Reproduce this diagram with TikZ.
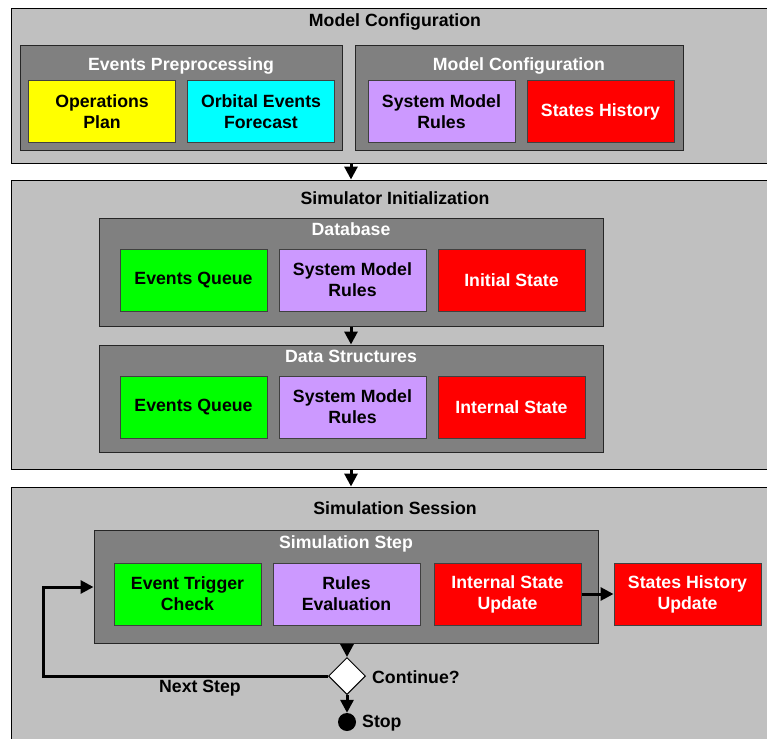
\documentclass[tikz,border=0pt]{standalone}
\usepackage{fontspec}
\setmainfont{Liberation Sans}
\usetikzlibrary{arrows.meta,shapes.geometric}
\definecolor{panelgray}{HTML}{C0C0C0}
\definecolor{groupgray}{HTML}{808080}
\definecolor{cyellow}{HTML}{FFFF00}
\definecolor{ccyan}{HTML}{00FFFF}
\definecolor{cgreen}{HTML}{00FF00}
\definecolor{clav}{HTML}{CC99FF}
\definecolor{cred}{HTML}{FF0000}
\begin{document}
\begin{tikzpicture}[x=1pt,y=-1pt,
  txt/.style={font=\bfseries\fontsize{17.7}{21}\selectfont},
  panel/.style={draw=black, fill=panelgray, line width=1pt, inner sep=0, minimum width=768pt},
  grp/.style={draw=black!85, fill=groupgray, line width=1pt, inner sep=0},
  box/.style={txt, draw=black!75, line width=1pt, inner sep=0, minimum width=147pt, minimum height=62pt, align=center},
  wbox/.style={box, fill=cred, text=white},
  ttl/.style={txt, inner sep=0},
  wttl/.style={ttl, text=white},
  arr/.style={line width=3pt, -{Triangle[length=13pt,width=13pt]}},
]
\useasboundingbox (0,0) rectangle (767,738);
\clip (0,0) rectangle (767,738);
\fill[white] (0,0) rectangle (767,738);

% ---- Panel 1
\node[panel, minimum height=154pt] (p1) at (395,86) {};
\node[ttl] (t1) at (395,22) {Model Configuration};
\node[grp, minimum width=322pt, minimum height=105pt] (ep) at (181,98.5) {};
\node[wttl] at (181,66) {Events Preprocessing};
\node[grp, minimum width=328pt, minimum height=105pt] (mc) at (519,98.5) {};
\node[wttl] at (519,66) {Model Configuration};
\node[box, fill=cyellow] (op) at (102,111.5) {Operations\\Plan};
\node[box, fill=ccyan] (oe) at (261,111.5) {Orbital Events\\Forecast};
\node[box, fill=clav] (smr1) at (441.5,111.5) {System Model\\Rules};
\node[wbox] (sh) at (600.5,111.5) {States History};

% ---- Panel 2
\node[panel, minimum height=289pt] (p2) at (395,324.5) {};
\node[ttl] at (395,198) {Simulator Initialization};
\node[grp, minimum width=504pt, minimum height=108pt] (db) at (351,272) {};
\node[wttl] at (351,229) {Database};
\node[box, fill=cgreen] (eq1) at (193.5,280) {Events Queue};
\node[box, fill=clav] (smr2) at (352.5,280) {System Model\\Rules};
\node[wbox] (is) at (511.5,280) {Initial State};
\node[grp, minimum width=504pt, minimum height=107pt] (ds) at (351,398.5) {};
\node[wttl] at (351,356) {Data Structures};
\node[box, fill=cgreen] (eq2) at (193.5,407) {Events Queue};
\node[box, fill=clav] (smr3) at (352.5,407) {System Model\\Rules};
\node[wbox] (ins) at (511.5,407) {Internal State};

% ---- Panel 3
\node[panel, minimum height=280pt] (p3) at (395,627) {};
\node[ttl] at (395,508) {Simulation Session};
\node[grp, minimum width=504pt, minimum height=113pt] (ss) at (346,586.5) {};
\node[wttl] at (346,544) {Simulation Step};
\node[box, fill=cgreen] (etc) at (187.5,594) {Event Trigger\\Check};
\node[box, fill=clav] (re) at (346.5,594) {Rules\\Evaluation};
\node[wbox] (isu) at (507.5,594) {Internal State\\Update};
\node[wbox] (shu) at (687.5,594) {States History\\Update};
\node[diamond, draw=black, fill=white, line width=1pt, inner sep=0, minimum width=37pt, minimum height=37pt] (dia) at (347,676) {};
\node[ttl, anchor=west] (cont) at (372,677) {Continue?};
\node[circle, fill=black, inner sep=0, minimum size=18pt] (stop) at (347,722) {};
\node[ttl, anchor=west] (stopl) at (362,723) {Stop};
\node[ttl] (next) at (200,688) {Next Step};
\coordinate (lp) at (43,587);

% ---- connectors
\draw[arr] (p1.south -| db.north) -- (p2.north -| db.north);
\draw[arr] (db.south) -- (ds.north);
\draw[arr] (p2.south -| db.north) -- (p3.north -| db.north);
\draw[arr] (isu.east) -- (shu.west);
\draw[arr] (ss.south -| dia.north) -- (dia.north);
\draw[arr] (dia.south) -- (stop.north);
\draw[arr] (dia.west) -| (lp) -- (lp -| ss.west);
\end{tikzpicture}
\end{document}
